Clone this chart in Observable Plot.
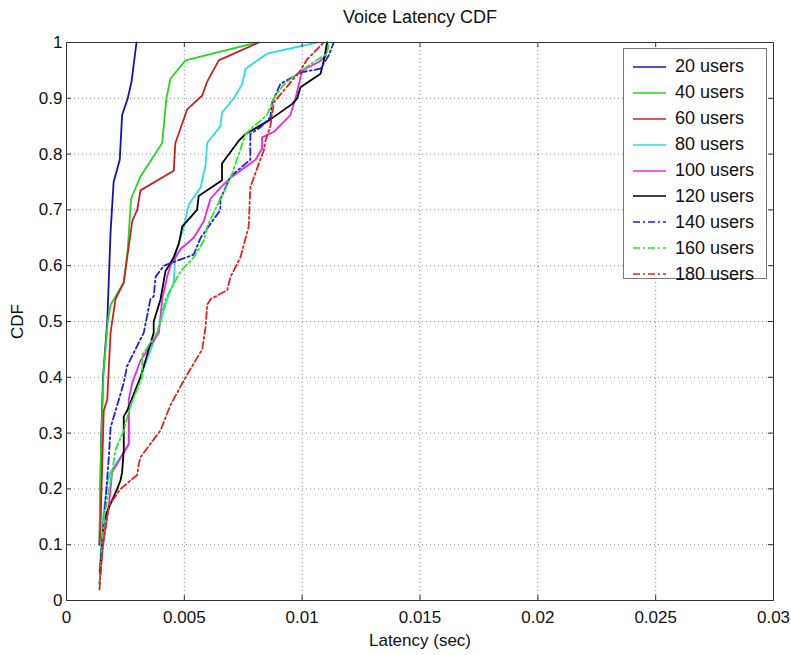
<!DOCTYPE html>
<html><head><meta charset="utf-8">
<script src="https://cdn.jsdelivr.net/npm/d3@7"></script>
<script src="https://cdn.jsdelivr.net/npm/@observablehq/plot@0.6"></script>
<style>
body{margin:0;background:#fff;}
#wrap{position:relative;width:791px;height:655px;font-family:"Liberation Sans",Arial,sans-serif;}
#legend{position:absolute;left:623px;top:48px;width:144px;height:231px;border:1px solid #777;background:#fff;box-sizing:border-box;padding-top:5px;}
.row{height:25.9px;display:flex;align-items:center;font-size:18px;color:#111;}
.row svg{margin-left:9px;margin-right:9px;}
</style></head><body><div id="wrap"><div id="legend"></div></div>
<script>
const title = "Voice Latency CDF";
const xLabel = "Latency (sec)";
const yLabel = "CDF";
const xTicks = [0, 0.005, 0.01, 0.015, 0.02, 0.025, 0.03];
const xTickLabels = ["0", "0.005", "0.01", "0.015", "0.02", "0.025", "0.03"];
const yTicks = [0, 0.1, 0.2, 0.3, 0.4, 0.5, 0.6, 0.7, 0.8, 0.9, 1];
const yTickLabels = ["0", "0.1", "0.2", "0.3", "0.4", "0.5", "0.6", "0.7", "0.8", "0.9", "1"];

const seriesNames = ["20 users", "40 users", "60 users", "80 users", "100 users", "120 users", "140 users", "160 users", "180 users"];
const seriesColors = ["#1212b8", "#22d822", "#cc2020", "#26e0e0", "#ee22ee", "#000000", "#1c1cee", "#22ee22", "#ee1c1c"];
const seriesDashed = [false, false, false, false, false, false, true, true, true];

// [latency in ms, CDF]
const u20 = [[1.40,0.10],[1.44,0.20],[1.48,0.30],[1.55,0.40],[1.73,0.50],[1.80,0.58],[1.87,0.66],[2.00,0.75],[2.26,0.79],[2.36,0.87],[2.60,0.90],[2.76,0.93],[2.97,1.00]];
const u40 = [[1.40,0.11],[1.45,0.25],[1.57,0.41],[1.75,0.50],[1.87,0.53],[2.43,0.57],[2.60,0.63],[2.74,0.72],[3.14,0.76],[4.06,0.82],[4.24,0.90],[4.41,0.935],[5.05,0.968],[8.09,1.00]];
const u60 = [[1.40,0.10],[1.44,0.13],[1.58,0.34],[1.73,0.36],[1.87,0.48],[2.08,0.54],[2.43,0.57],[2.79,0.68],[3.00,0.70],[3.14,0.735],[4.55,0.77],[4.62,0.82],[5.12,0.88],[5.76,0.905],[5.97,0.93],[6.46,0.968],[8.16,1.00]];
const u80 = [[1.40,0.05],[1.55,0.15],[1.73,0.21],[1.87,0.23],[2.64,0.28],[2.66,0.34],[2.86,0.37],[3.85,0.48],[4.27,0.54],[4.55,0.57],[4.62,0.62],[4.98,0.67],[5.19,0.71],[5.69,0.74],[5.90,0.78],[5.97,0.82],[6.53,0.85],[6.60,0.875],[7.10,0.90],[7.45,0.925],[7.60,0.953],[8.51,0.98],[10.64,1.00]];
const u100 = [[1.42,0.04],[1.58,0.11],[1.80,0.17],[1.94,0.23],[2.64,0.28],[2.64,0.36],[2.79,0.39],[3.14,0.43],[3.92,0.48],[4.06,0.54],[4.27,0.58],[4.41,0.60],[4.84,0.63],[5.40,0.65],[5.83,0.68],[6.11,0.72],[6.53,0.74],[7.03,0.76],[8.02,0.79],[8.30,0.81],[8.30,0.83],[8.80,0.84],[9.50,0.87],[9.72,0.90],[10.00,0.95],[10.70,0.965],[10.99,0.975],[11.06,1.00]];
const u120 = [[1.42,0.05],[1.58,0.14],[1.73,0.16],[2.15,0.20],[2.29,0.215],[2.36,0.23],[2.43,0.27],[2.43,0.33],[2.57,0.34],[3.14,0.40],[3.70,0.48],[3.70,0.50],[3.99,0.54],[4.20,0.59],[4.55,0.615],[4.77,0.64],[4.91,0.67],[5.54,0.70],[5.61,0.725],[6.60,0.753],[6.60,0.783],[7.31,0.824],[7.60,0.836],[8.58,0.86],[9.58,0.89],[9.79,0.90],[9.93,0.92],[10.78,0.944],[10.92,0.968],[11.06,1.00]];
const u140 = [[1.40,0.03],[1.55,0.12],[1.73,0.22],[1.80,0.26],[1.87,0.31],[2.43,0.39],[2.57,0.42],[3.28,0.48],[3.56,0.54],[3.70,0.545],[3.78,0.58],[4.13,0.60],[5.40,0.62],[5.69,0.65],[6.53,0.70],[6.53,0.72],[6.96,0.76],[7.80,0.79],[7.80,0.836],[8.23,0.848],[8.65,0.866],[8.73,0.893],[9.08,0.926],[10.00,0.947],[10.78,0.953],[11.13,0.977],[11.34,1.00]];
const u160 = [[1.40,0.03],[1.60,0.15],[1.94,0.23],[2.08,0.27],[2.43,0.305],[2.72,0.35],[3.21,0.40],[3.21,0.44],[3.85,0.48],[4.20,0.54],[4.84,0.59],[5.40,0.615],[5.83,0.645],[5.97,0.67],[6.53,0.72],[6.67,0.73],[7.03,0.765],[7.60,0.836],[7.95,0.85],[8.51,0.87],[8.80,0.90],[9.22,0.925],[9.79,0.944],[10.49,0.965],[11.06,0.98],[11.13,1.00]];
const u180 = [[1.40,0.02],[1.51,0.09],[1.80,0.17],[2.29,0.20],[3.00,0.225],[3.07,0.245],[3.14,0.257],[3.99,0.305],[4.41,0.35],[5.05,0.40],[5.76,0.45],[5.90,0.49],[5.97,0.53],[6.11,0.54],[6.82,0.556],[6.96,0.58],[7.38,0.615],[7.73,0.67],[7.80,0.74],[8.16,0.783],[8.37,0.806],[8.44,0.824],[8.65,0.85],[8.80,0.893],[9.22,0.914],[9.93,0.95],[10.21,0.97],[10.92,1.00]];
const seriesData = [u20, u40, u60, u80, u100, u120, u140, u160, u180];

const W = 791, H = 655, mL = 66, mR = 18, mT = 42, mB = 55;
const innerW = W - mL - mR, innerH = H - mT - mB;
const DASH = "7,3,2,3";
const axisColor = "#333";

const lineMarks = seriesData.map((s, i) => Plot.line(s, {
  x: d => d[0] / 1000, y: d => d[1],
  stroke: seriesColors[i], strokeWidth: 1.8,
  strokeDasharray: seriesDashed[i] ? DASH : null
}));

const chart = Plot.plot({
  width: W, height: H,
  marginLeft: mL, marginRight: mR, marginTop: mT, marginBottom: mB,
  style: {fontFamily: "'Liberation Sans', Arial, sans-serif", fontSize: "17px", color: "#111", background: "#fff"},
  x: {domain: [0, 0.03]},
  y: {domain: [0, 1]},
  marks: [
    Plot.gridX(xTicks, {stroke: "#888", strokeOpacity: 1, strokeDasharray: "1,3"}),
    Plot.gridY(yTicks, {stroke: "#888", strokeOpacity: 1, strokeDasharray: "1,3"}),
    ...lineMarks,
    Plot.frame({stroke: axisColor}),
    Plot.tickX(xTicks, {x: d => d, insetTop: innerH - 5, stroke: axisColor}),
    Plot.tickX(xTicks, {x: d => d, insetBottom: innerH - 5, stroke: axisColor}),
    Plot.tickY(yTicks, {y: d => d, insetRight: innerW - 5, stroke: axisColor}),
    Plot.tickY(yTicks, {y: d => d, insetLeft: innerW - 5, stroke: axisColor}),
    Plot.axisX(xTicks, {tickSize: 0, tickPadding: 10, fontSize: 17, tickFormat: d => xTickLabels[xTicks.indexOf(d)],
      label: xLabel, labelAnchor: "center", labelArrow: "none", labelOffset: 45}),
    Plot.axisY(yTicks, {tickSize: 0, tickPadding: 4, fontSize: 17, tickFormat: d => yTickLabels[yTicks.indexOf(d)],
      label: yLabel, labelAnchor: "center", labelArrow: "none", labelOffset: 56}),
    Plot.text([title], {text: d => d, frameAnchor: "top", dy: -32, fontSize: 18})
  ]
});
const wrap = document.getElementById("wrap");
wrap.insertBefore(chart, wrap.firstChild);

const legend = document.getElementById("legend");
seriesNames.forEach((name, i) => {
  const row = document.createElement("div");
  row.className = "row";
  const svg = d3.create("svg").attr("width", 33).attr("height", 10);
  svg.append("line").attr("x1", 0).attr("x2", 33).attr("y1", 5).attr("y2", 5)
    .attr("stroke", seriesColors[i]).attr("stroke-width", 1.6)
    .attr("stroke-dasharray", seriesDashed[i] ? DASH : null);
  row.appendChild(svg.node());
  const t = document.createElement("span");
  t.textContent = name;
  row.appendChild(t);
  legend.appendChild(row);
});
</script></body></html>
